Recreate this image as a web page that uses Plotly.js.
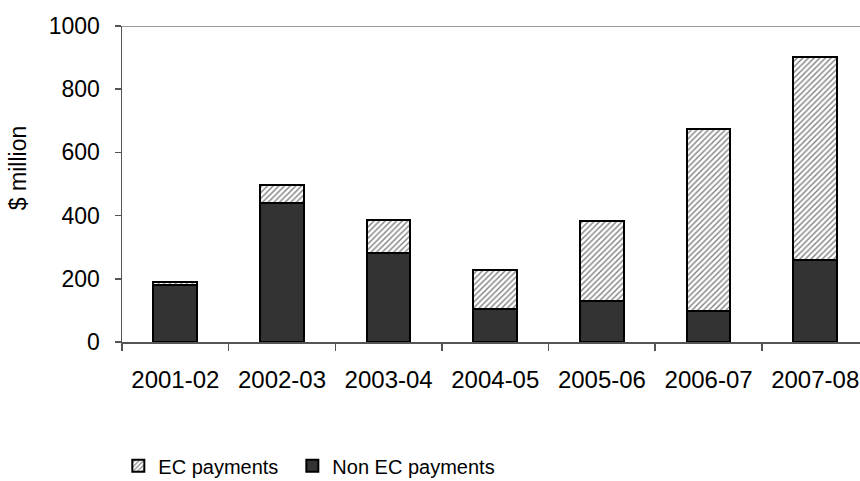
<!DOCTYPE html>
<html>
<head>
<meta charset="utf-8">
<script src="https://cdn.plot.ly/plotly-3.0.1.min.js"></script>
<style>html,body{margin:0;padding:0;background:#fff;}#chart{width:860px;height:481px;}</style>
</head>
<body>
<div id="chart"></div>
<script>
const categories = ["2001-02","2002-03","2003-04","2004-05","2005-06","2006-07","2007-08"];
const nonEcPayments = [180, 440, 283, 104, 131, 99, 260];
const ecPayments = [10, 57, 103, 125, 252, 575, 643];
const yTicks = [0, 200, 400, 600, 800, 1000];
const yAxisTitle = "$ million";

const font = {family: "Liberation Sans, Arial, sans-serif", color: "#000"};

const traces = [
  {
    type: "bar", name: "Non EC payments", x: categories, y: nonEcPayments,
    marker: {color: "#333333", line: {color: "#000", width: 2}},
    width: 0.41, legend: "legend2"
  },
  {
    type: "bar", name: "EC payments", x: categories, y: ecPayments,
    marker: {color: "#ffffff", line: {color: "#000", width: 2},
      pattern: {shape: "/", fgcolor: "#808080", bgcolor: "#ffffff", size: 4, solidity: 0.35}},
    width: 0.41, legend: "legend"
  }
];

const legendBase = {
  orientation: "h", xanchor: "left", y: -0.392, yanchor: "middle",
  font: Object.assign({size: 20}, font), itemwidth: 30, bgcolor: "rgba(0,0,0,0)"
};

const layout = {
  width: 860, height: 481,
  margin: {l: 122, r: 0, t: 26, b: 139, autoexpand: false},
  paper_bgcolor: "#fff", plot_bgcolor: "#fff",
  barmode: "stack",
  showlegend: true,
  font: Object.assign({size: 20}, font),
  xaxis: {
    type: "category",
    range: [-0.5, 6.42],
    tickson: "boundaries",
    ticks: "outside", ticklen: 7, tickcolor: "#555", tickwidth: 1.5,
    showline: true, linecolor: "#555", linewidth: 1.5,
    showgrid: false, zeroline: false, automargin: false,
    tickfont: Object.assign({size: 24}, font),
    ticklabelstandoff: 16
  },
  yaxis: {
    range: [0, 1000],
    tickvals: yTicks,
    ticks: "outside", ticklen: 6, tickcolor: "#555", tickwidth: 1.5,
    showline: true, linecolor: "#555", linewidth: 1.5,
    showgrid: false, zeroline: false, automargin: false,
    tickfont: Object.assign({size: 23}, font),
    ticklabelstandoff: 10
  },
  annotations: [
    {text: yAxisTitle, xref: "paper", yref: "paper", x: -0.141, y: 0.55,
     xanchor: "center", yanchor: "middle", textangle: -90, showarrow: false,
     font: Object.assign({size: 23}, font)}
  ],
  shapes: [
    {type: "line", xref: "paper", yref: "y", x0: 0, x1: 1, y0: 1000, y1: 1000,
     line: {color: "#999", width: 2}, layer: "below"}
  ],
  legend: Object.assign({x: -0.005}, legendBase),
  legend2: Object.assign({x: 0.2308}, legendBase)
};

Plotly.newPlot("chart", traces, layout, {displayModeBar: false, staticPlot: true});
</script>
</body>
</html>
